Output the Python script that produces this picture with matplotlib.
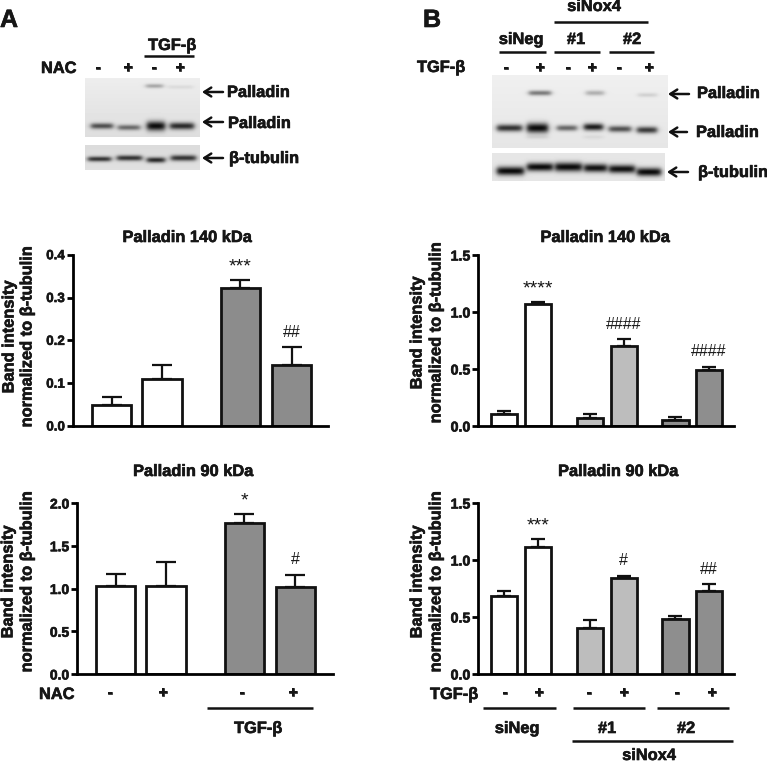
import numpy as np
import matplotlib
matplotlib.use('Agg')
import matplotlib.pyplot as plt
from matplotlib.patheffects import withStroke

plt.rcParams['font.family'] = ['Liberation Sans', 'DejaVu Sans']
plt.rcParams['axes.linewidth'] = 2.0

W, H = 767, 762
DARK = '#161616'
HEAVY = [withStroke(linewidth=0.45, foreground=DARK)]

# Bar values
a140_means = [0.049, 0.109, 0.323, 0.142]
a140_tops = [0.067, 0.142, 0.342, 0.184]
a140_sig = ['', '', '***', '##']
a90_means = [1.03, 1.03, 1.766, 1.023]
a90_tops = [1.168, 1.309, 1.871, 1.16]
a90_sig = ['', '', '*', '#']
b140_means = [0.105, 1.074, 0.073, 0.706, 0.052, 0.49]
b140_tops = [0.131, 1.088, 0.105, 0.759, 0.076, 0.519]
b140_sig = ['', '****', '', '####', '', '####']
b90_means = [0.683, 1.112, 0.406, 0.838, 0.482, 0.73]
b90_tops = [0.727, 1.182, 0.473, 0.861, 0.505, 0.788]
b90_sig = ['', '***', '', '#', '', '##']

a_colors = ['white', 'white', '#8c8c8c', '#8c8c8c']
b_colors = ['white', 'white', '#bdbdbd', '#bdbdbd', '#8e8e8e', '#8e8e8e']
a_pos = [0, 1, 2.54, 3.55]
b_pos = [0, 1, 2.53, 3.52, 5.04, 6.03]

# Blot bands: x0, x1, y centre, half height, darkness (image pixels)
a_blot1 = [(146, 163, 86, 2.2, 0.3), (168, 193, 87, 2.0, 0.07),
           (91, 113, 126, 3.0, 0.68), (118, 140, 127.5, 2.8, 0.55),
           (147, 165, 126, 4.8, 1.0), (170, 194, 126, 3.6, 0.85)]
a_blot2 = [(88, 111, 159, 2.6, 0.8), (117, 142, 158, 2.8, 0.8),
           (147, 165, 160, 2.8, 0.85), (171, 196, 158, 3.0, 0.8)]
b_blot1 = [(529, 551, 93, 2.6, 0.5), (586, 604, 93, 2.6, 0.27), (638, 657, 95, 2.2, 0.12),
           (497, 522, 128, 3.6, 0.82), (527, 548, 128, 5.0, 1.0), (557, 577, 128, 3.0, 0.58),
           (584, 603, 127, 3.6, 0.92), (609, 631, 129, 3.2, 0.68), (637, 657, 130, 3.4, 0.78),
           (527, 548, 137, 2.0, 0.08), (584, 603, 137, 2.0, 0.06)]
b_blot2 = [(497, 524, 171, 4.4, 1.0), (527, 553, 167, 4.2, 1.0), (555, 582, 167, 4.6, 1.0),
           (584, 607, 168, 4.2, 0.97), (609, 635, 169, 4.2, 0.97), (637, 661, 172, 4.2, 1.0)]

fig = plt.figure(figsize=(W / 100, H / 100), dpi=100, facecolor='white')


def px_text(x, y, s, ha='left', size=11.8, **kw):
    fig.text(x / W, 1 - y / H, s, ha=ha, va='baseline', fontsize=size, fontweight='bold',
             color=DARK, path_effects=HEAVY, **kw)


def px_line(x0, x1, y, lw=1.8):
    fig.add_artist(plt.Line2D([x0 / W, x1 / W], [1 - y / H, 1 - y / H],
                              color='#111111', lw=lw, solid_capstyle='butt'))


def px_arrow(head, tail, y):
    fig.add_artist(matplotlib.patches.FancyArrowPatch(
        (tail / W, 1 - y / H), (head / W, 1 - y / H), transform=fig.transFigure,
        arrowstyle='->,head_length=5,head_width=3.2', lw=1.8, color='#111111',
        shrinkA=0, shrinkB=0, mutation_scale=1))


def blot(x0, x1, y0, y1, bands, bg_top, bg_bottom):
    xs = np.arange(x0, x1) + 0.5
    ys = np.arange(y0, y1) + 0.5
    xx, yy = np.meshgrid(xs, ys)
    img = np.linspace(bg_top, bg_bottom, len(ys))[:, None] * np.ones_like(xx)
    for bx0, bx1, cy, hh, dark in bands:
        prof_x = 0.5 * (np.tanh((xx - bx0) / 3.0) - np.tanh((xx - bx1) / 3.0))
        prof_y = np.exp(-((yy - cy) / hh) ** 2)
        img = img * (1 - dark * 0.95 * prof_x * prof_y)
    ax = fig.add_axes([x0 / W, 1 - y1 / H, (x1 - x0) / W, (y1 - y0) / H])
    ax.imshow(img, cmap='gray', vmin=0, vmax=1, aspect='auto', interpolation='bilinear')
    ax.axis('off')


def panel(x0, x1, y_zero, y_top, ymax, step, xpos, means, tops, sig, colors,
          xlim, width, tick_size, capsize):
    ax = fig.add_axes([x0 / W, 1 - y_zero / H, (x1 - x0) / W, (y_zero - y_top) / H])
    ax.patch.set_alpha(0)
    errs = np.array(tops) - np.array(means)
    ax.errorbar(xpos, means, yerr=[np.zeros(len(errs)), errs], fmt='none', ecolor='#111111',
                elinewidth=1.6, capsize=capsize, capthick=1.6, zorder=1)
    ax.bar(xpos, means, width=width, color=colors, edgecolor='#111111', linewidth=2.0, zorder=2)
    ax.set_xlim(*xlim)
    ax.set_ylim(0, ymax)
    ax.set_xticks([])
    ax.set_yticks(np.arange(0, ymax + step / 2, step))
    ax.set_yticklabels(['%.1f' % t for t in np.arange(0, ymax + step / 2, step)],
                       fontsize=tick_size, fontweight='bold', color=DARK, path_effects=HEAVY)
    ax.tick_params(axis='y', length=4.5, width=2.0, pad=1)
    ax.spines['top'].set_visible(False)
    ax.spines['right'].set_visible(False)
    for x, top, s in zip(xpos, tops, sig):
        if not s:
            continue
        is_star = s[0] == '*'
        ax.annotate(s, (x, top), xytext=(0, 6 if is_star else 7.5), textcoords='offset points',
                    ha='center', va='baseline', fontsize=14 if is_star else 11.5, color=DARK)


def ylabel(x1, x2, y):
    fig.text(x1 / W, 1 - y / H, 'Band intensity', rotation=90, ha='center', va='center',
             fontsize=11.8, fontweight='bold', color=DARK, path_effects=HEAVY)
    fig.text(x2 / W, 1 - y / H, 'normalized to β-tubulin', rotation=90, ha='center', va='center',
             fontsize=11.8, fontweight='bold', color=DARK, path_effects=HEAVY)


# Bar panels
panel(72.5, 328, 426, 254.7, 0.4, 0.1, a_pos, a140_means, a140_tops, a140_sig, a_colors,
      (-0.77, 4.27), 0.78, 9.6, 7.5)
panel(77, 333, 674, 503, 2.0, 0.5, a_pos, a90_means, a90_tops, a90_sig, a_colors,
      (-0.76, 4.29), 0.78, 10, 7.5)
panel(478, 734, 426, 255, 1.5, 0.5, b_pos, b140_means, b140_tops, b140_sig, b_colors,
      (-0.76, 6.76), 0.77, 10.2, 5)
panel(478, 734, 674, 503, 1.5, 0.5, b_pos, b90_means, b90_tops, b90_sig, b_colors,
      (-0.76, 6.76), 0.77, 10.2, 5)

ylabel(9, 27, 337)
ylabel(8, 27, 582)
ylabel(417, 436, 333)
ylabel(417, 436, 582)

px_text(187, 242, 'Palladin 140 kDa', ha='center')
px_text(605, 242, 'Palladin 140 kDa', ha='center')
px_text(193, 476, 'Palladin 90 kDa', ha='center')
px_text(618, 476, 'Palladin 90 kDa', ha='center')

# Blots
blot(85, 200, 78, 137, a_blot1, 0.93, 0.87)
blot(85, 200, 145, 170, a_blot2, 0.86, 0.88)
blot(492, 668, 75, 148, b_blot1, 0.94, 0.90)
blot(492, 665, 153, 181, b_blot2, 0.90, 0.90)

# Panel letters
px_text(0, 27, 'A', size=18)
px_text(423, 27, 'B', size=18)

# Blot labels, panel A
px_text(172, 50, 'TGF-β', ha='center')
px_line(144, 194, 56)
px_text(41, 73, 'NAC')
for x, s in zip([98, 128, 154, 180], ['-', '+', '-', '+']):
    px_text(x, 72, s, ha='center', size=11.5)
px_text(227, 97, 'Palladin')
px_text(228, 128, 'Palladin')
px_text(229, 163, 'β-tubulin')
px_arrow(202, 223, 92)
px_arrow(202, 223, 122)
px_arrow(202, 223, 158)

# Blot labels, panel B
px_text(594, 11, 'siNox4', ha='center')
px_line(554, 648, 22)
px_text(521, 44, 'siNeg', ha='center')
px_text(576, 44, '#1', ha='center')
px_text(632, 44, '#2', ha='center')
px_line(499, 546, 52)
px_line(554, 600, 52)
px_line(609, 654, 52)
px_text(417, 72, 'TGF-β')
for x, s in zip([506, 540, 568, 592, 619, 649], ['-', '+', '-', '+', '-', '+']):
    px_text(x, 72, s, ha='center', size=11.5)
px_text(697, 98, 'Palladin')
px_text(696, 137, 'Palladin')
px_text(698, 177, 'β-tubulin')
px_arrow(668, 689, 94)
px_arrow(668, 687, 132)
px_arrow(667, 688, 172)

# Labels under the bar panels
px_text(39, 699, 'NAC')
for x, s in zip([110, 163, 242, 293], ['-', '+', '-', '+']):
    px_text(x, 697, s, ha='center', size=11.5)
px_line(207, 313, 708)
px_text(258, 733, 'TGF-β', ha='center')

px_text(430, 699, 'TGF-β')
for x, s in zip([505, 539, 589, 624, 677, 712], ['-', '+', '-', '+', '-', '+']):
    px_text(x, 697, s, ha='center', size=11.5)
px_line(483, 556, 708)
px_line(573, 645, 708)
px_line(657, 729, 708)
px_text(517, 733, 'siNeg', ha='center')
px_text(607, 733, '#1', ha='center')
px_text(686, 733, '#2', ha='center')
px_line(572, 733, 741)
px_text(649, 760, 'siNox4', ha='center')

fig.savefig('out.png', dpi=100, facecolor='white')
